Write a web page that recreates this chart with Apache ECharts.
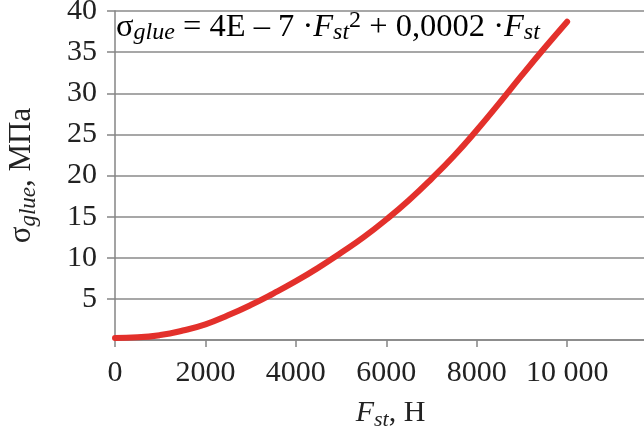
<!DOCTYPE html>
<html>
<head>
<meta charset="utf-8">
<script src="https://cdn.jsdelivr.net/npm/echarts@6/dist/echarts.min.js"></script>
<style>
html,body{margin:0;padding:0;background:#fff;}
#c{width:644px;height:439px;}
</style>
</head>
<body>
<div id="c"></div>
<script>
// Data
const forceN = [0, 500, 1000, 1500, 2000, 2500, 3000, 3500, 4000, 4500, 5000, 5500, 6000, 6500, 7000, 7500, 8000, 8500, 9000, 9500, 10000];
const stressMPa = [0.25, 0.32, 0.6, 1.15, 1.9, 3.0, 4.25, 5.65, 7.15, 8.8, 10.6, 12.5, 14.65, 17.0, 19.6, 22.4, 25.5, 28.8, 32.2, 35.5, 38.7];
const xTicks = [0, 2000, 4000, 6000, 8000, 10000];
const xTickLabels = ['0', '2000', '4000', '6000', '8000', '10 000'];
const yTicks = [5, 10, 15, 20, 25, 30, 35, 40];

const serif = '"Liberation Serif", "DejaVu Serif", serif';
const chart = echarts.init(document.getElementById('c'), null, {renderer: 'canvas'});

function rich(base, sub, lh) {
  return {
    n: {fontFamily: serif, fontSize: base, color: '#222', lineHeight: lh, verticalAlign: 'middle'},
    i: {fontFamily: serif, fontSize: base, fontStyle: 'italic', color: '#222', lineHeight: lh, verticalAlign: 'middle'},
    sub: {fontFamily: serif, fontSize: sub, fontStyle: 'italic', color: '#222', lineHeight: Math.round(sub * 0.9), verticalAlign: 'bottom'},
    sup: {fontFamily: serif, fontSize: sub, color: '#222', lineHeight: Math.round(sub * 0.9), verticalAlign: 'top'}
  };
}

const data = forceN.map((f, k) => [f, stressMPa[k]]);

chart.setOption({
  backgroundColor: '#fff',
  animation: false,
  grid: {left: 115, right: 0, top: 11, bottom: 99, containLabel: false, outerBoundsMode: 'none'},
  xAxis: {
    type: 'value', min: 0, max: 11700, interval: 2000,
    name: '{i|F}{sub|st}{n|, Н}',
    nameLocation: 'middle', nameGap: 55,
    nameTextStyle: {rich: rich(30, 22, 36), padding: [0, 0, 0, 22]},
    axisLine: {show: true, onZero: false, lineStyle: {color: '#858585', width: 1.5}},
    axisTick: {show: true, length: 7, lineStyle: {color: '#858585', width: 1.5}},
    splitLine: {show: false},
    axisLabel: {
      showMaxLabel: false, margin: 18,
      fontFamily: serif, fontSize: 30, color: '#222',
      formatter: v => { const k = xTicks.indexOf(v); return k >= 0 ? xTickLabels[k] : ''; }
    }
  },
  yAxis: {
    type: 'value', min: 0, max: 40, interval: 5,
    name: '{n|σ}{sub|glue}{n|, МПа}',
    nameLocation: 'middle', nameGap: 75, nameRotate: 90,
    nameTextStyle: {rich: rich(31, 23, 36)},
    axisLine: {show: true, lineStyle: {color: '#858585', width: 1.5}},
    axisTick: {show: true, length: 8, lineStyle: {color: '#858585', width: 1.5}},
    splitLine: {show: true, lineStyle: {color: '#8a8a8a', width: 1.5}},
    axisLabel: {
      showMinLabel: false, margin: 18,
      fontFamily: serif, fontSize: 30, color: '#222',
      formatter: v => yTicks.indexOf(v) >= 0 ? String(v) : ''
    }
  },
  series: [{
    type: 'line', data: data, smooth: 0.5, symbol: 'none',
    lineStyle: {color: '#e3302b', width: 6, cap: 'round'},
    z: 3
  }],
  graphic: [{
    type: 'text', left: 116, top: 9, z: 10,
    style: {
      text: '{n|σ}{sub|glue}{n| = 4E – 7 ·}{i|F}{sub|st}{sup|2}{n| + 0,0002 ·}{i|F}{sub|st}',
      rich: rich(32.5, 24, 36)
    }
  }]
});
</script>
</body>
</html>
